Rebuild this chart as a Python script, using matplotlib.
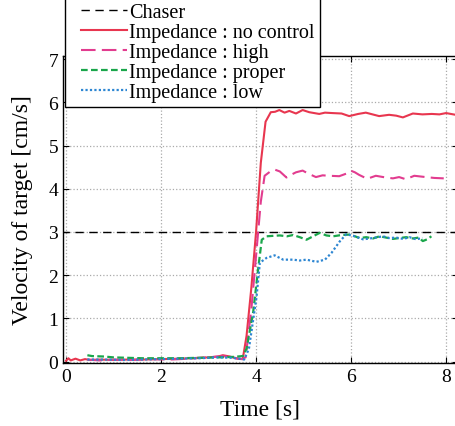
import matplotlib
matplotlib.use('Agg')
from matplotlib import pyplot as plt
from matplotlib.legend_handler import HandlerLine2D

plt.rcParams['font.family'] = ['Liberation Serif', 'DejaVu Serif']

# 追踪者速度（恒定）
chaser_t = [-0.1, 8.3]
chaser_v = [3.0, 3.0]

# 无控制
nc_t = [0.0, 0.05, 0.1, 0.2, 0.3, 0.4, 0.5, 0.7, 1.0, 1.3, 1.6, 2.0, 2.4, 2.8, 3.0, 3.2, 3.3, 3.45, 3.6, 3.72,
        3.8, 3.9, 4.0, 4.1, 4.2, 4.31, 4.4, 4.49, 4.6, 4.7, 4.84, 4.98, 5.12, 5.33, 5.45, 5.61, 5.8, 5.96, 6.15, 6.31,
        6.45, 6.59, 6.8, 6.95, 7.09, 7.3, 7.5, 7.7, 7.86, 8.0, 8.2]
nc_v = [0.02, 0.08, 0.03, 0.07, 0.03, 0.06, 0.04, 0.05, 0.04, 0.05, 0.05, 0.06, 0.07, 0.09, 0.1, 0.12, 0.15, 0.12, 0.07, 0.06,
        0.6, 1.7, 3.0, 4.6, 5.55, 5.77, 5.78, 5.82, 5.76, 5.8, 5.74, 5.82, 5.77, 5.73, 5.76, 5.75, 5.74, 5.68, 5.73, 5.76,
        5.72, 5.68, 5.71, 5.69, 5.65, 5.74, 5.72, 5.73, 5.72, 5.75, 5.71]

# 阻抗：高
hi_t = [0.45, 0.7, 1.0, 1.4, 1.8, 2.2, 2.6, 3.0, 3.3, 3.5, 3.7, 3.78, 3.9, 4.02, 4.1, 4.18, 4.3, 4.4, 4.5, 4.64,
        4.75, 4.84, 4.98, 5.1, 5.26, 5.4, 5.54, 5.75, 5.9, 5.99, 6.08, 6.17, 6.34, 6.52, 6.73, 6.88, 7.01, 7.15,
        7.33, 7.57, 7.75, 7.95]
hi_v = [0.05, 0.03, 0.05, 0.04, 0.06, 0.05, 0.07, 0.1, 0.13, 0.1, 0.06, 0.1, 1.2, 2.7, 3.7, 4.3, 4.4, 4.44, 4.4, 4.26,
        4.33, 4.38, 4.42, 4.35, 4.27, 4.31, 4.3, 4.29, 4.35, 4.42, 4.38, 4.32, 4.23, 4.3, 4.26, 4.24, 4.27, 4.22,
        4.3, 4.27, 4.25, 4.24]

# 阻抗：适当
pr_t = [0.45, 0.55, 0.8, 1.0, 1.3, 1.6, 2.0, 2.4, 2.8, 3.2, 3.5, 3.72, 3.8, 3.94, 4.05, 4.12, 4.22, 4.35, 4.5, 4.65,
        4.78, 4.92, 5.06, 5.2, 5.34, 5.48, 5.62, 5.8, 5.97, 6.08, 6.18, 6.32, 6.46, 6.6, 6.74, 6.88, 7.02, 7.16,
        7.3, 7.42, 7.51, 7.6, 7.69]
pr_v = [0.15, 0.13, 0.12, 0.1, 0.09, 0.08, 0.08, 0.08, 0.09, 0.1, 0.11, 0.13, 0.3, 1.15, 2.2, 2.82, 2.9, 2.91, 2.92, 2.9,
        2.93, 2.88, 2.82, 2.9, 2.98, 2.92, 2.9, 2.93, 2.94, 2.9, 2.86, 2.88, 2.85, 2.9, 2.87, 2.84, 2.86, 2.88,
        2.85, 2.87, 2.79, 2.83, 2.9]

# 阻抗：低
lo_t = [0.45, 0.8, 1.2, 1.6, 2.0, 2.4, 2.8, 3.2, 3.5, 3.75, 3.85, 4.01, 4.08, 4.22, 4.39, 4.57, 4.78, 4.92, 5.06, 5.27,
        5.45, 5.59, 5.76, 5.9, 6.0, 6.08, 6.25, 6.46, 6.67, 6.8, 6.95, 7.1, 7.23, 7.37, 7.5]
lo_v = [0.05, 0.05, 0.04, 0.05, 0.06, 0.07, 0.08, 0.1, 0.09, 0.05, 0.3, 1.5, 2.29, 2.4, 2.46, 2.36, 2.36, 2.34, 2.36, 2.31,
        2.36, 2.52, 2.78, 2.95, 2.92, 2.9, 2.83, 2.86, 2.9, 2.86, 2.87, 2.84, 2.88, 2.83, 2.86]

fig = plt.figure(figsize=(4.56, 4.27), dpi=100)
ax = fig.add_axes([63 / 456, 63 / 427, 395 / 456, 307 / 427])

ax.plot(chaser_t, chaser_v, color='black', ls=(0, (6, 4)), lw=1.0, label='Chaser')
ax.plot(nc_t, nc_v, color='#e8364f', ls='-', lw=1.5, label='Impedance : no control')
ax.plot(hi_t, hi_v, color='#e23c8f', ls=(0, (7, 3)), lw=1.5, label='Impedance : high')
ax.plot(pr_t, pr_v, color='#1aa64b', ls=(0, (3, 1.5)), lw=1.6, label='Impedance : proper')
ax.plot(lo_t, lo_v, color='#2d86d2', ls=(0, (1, 1)), lw=1.6, label='Impedance : low')

ax.set_xlim(-0.063, 8.25)
ax.set_ylim(-0.03, 7.07)
ax.set_xticks([0, 2, 4, 6, 8])
ax.set_yticks(range(8))
ax.grid(True, ls=':', color='#aaaaaa', lw=0.9)
ax.tick_params(direction='in', top=True, right=True, labelsize=14, length=4)
for s in ax.spines.values():
    s.set_linewidth(1.0)

ax.set_xlabel('Time [s]', fontsize=17, labelpad=10)
ax.set_ylabel('Velocity of target [cm/s]', fontsize=17, labelpad=11)

# 图例句柄左侧留白
fig.legend(loc='upper left', bbox_to_anchor=(65 / 456, 1.003), fontsize=14.5, frameon=True,
           fancybox=False, edgecolor='black', framealpha=1, handlelength=2.85, handletextpad=0.1,
           labelspacing=0.05, borderpad=0.25, borderaxespad=0,
           handler_map={plt.Line2D: HandlerLine2D(xpad=0.55)})

fig.savefig('out.png', dpi=100)
